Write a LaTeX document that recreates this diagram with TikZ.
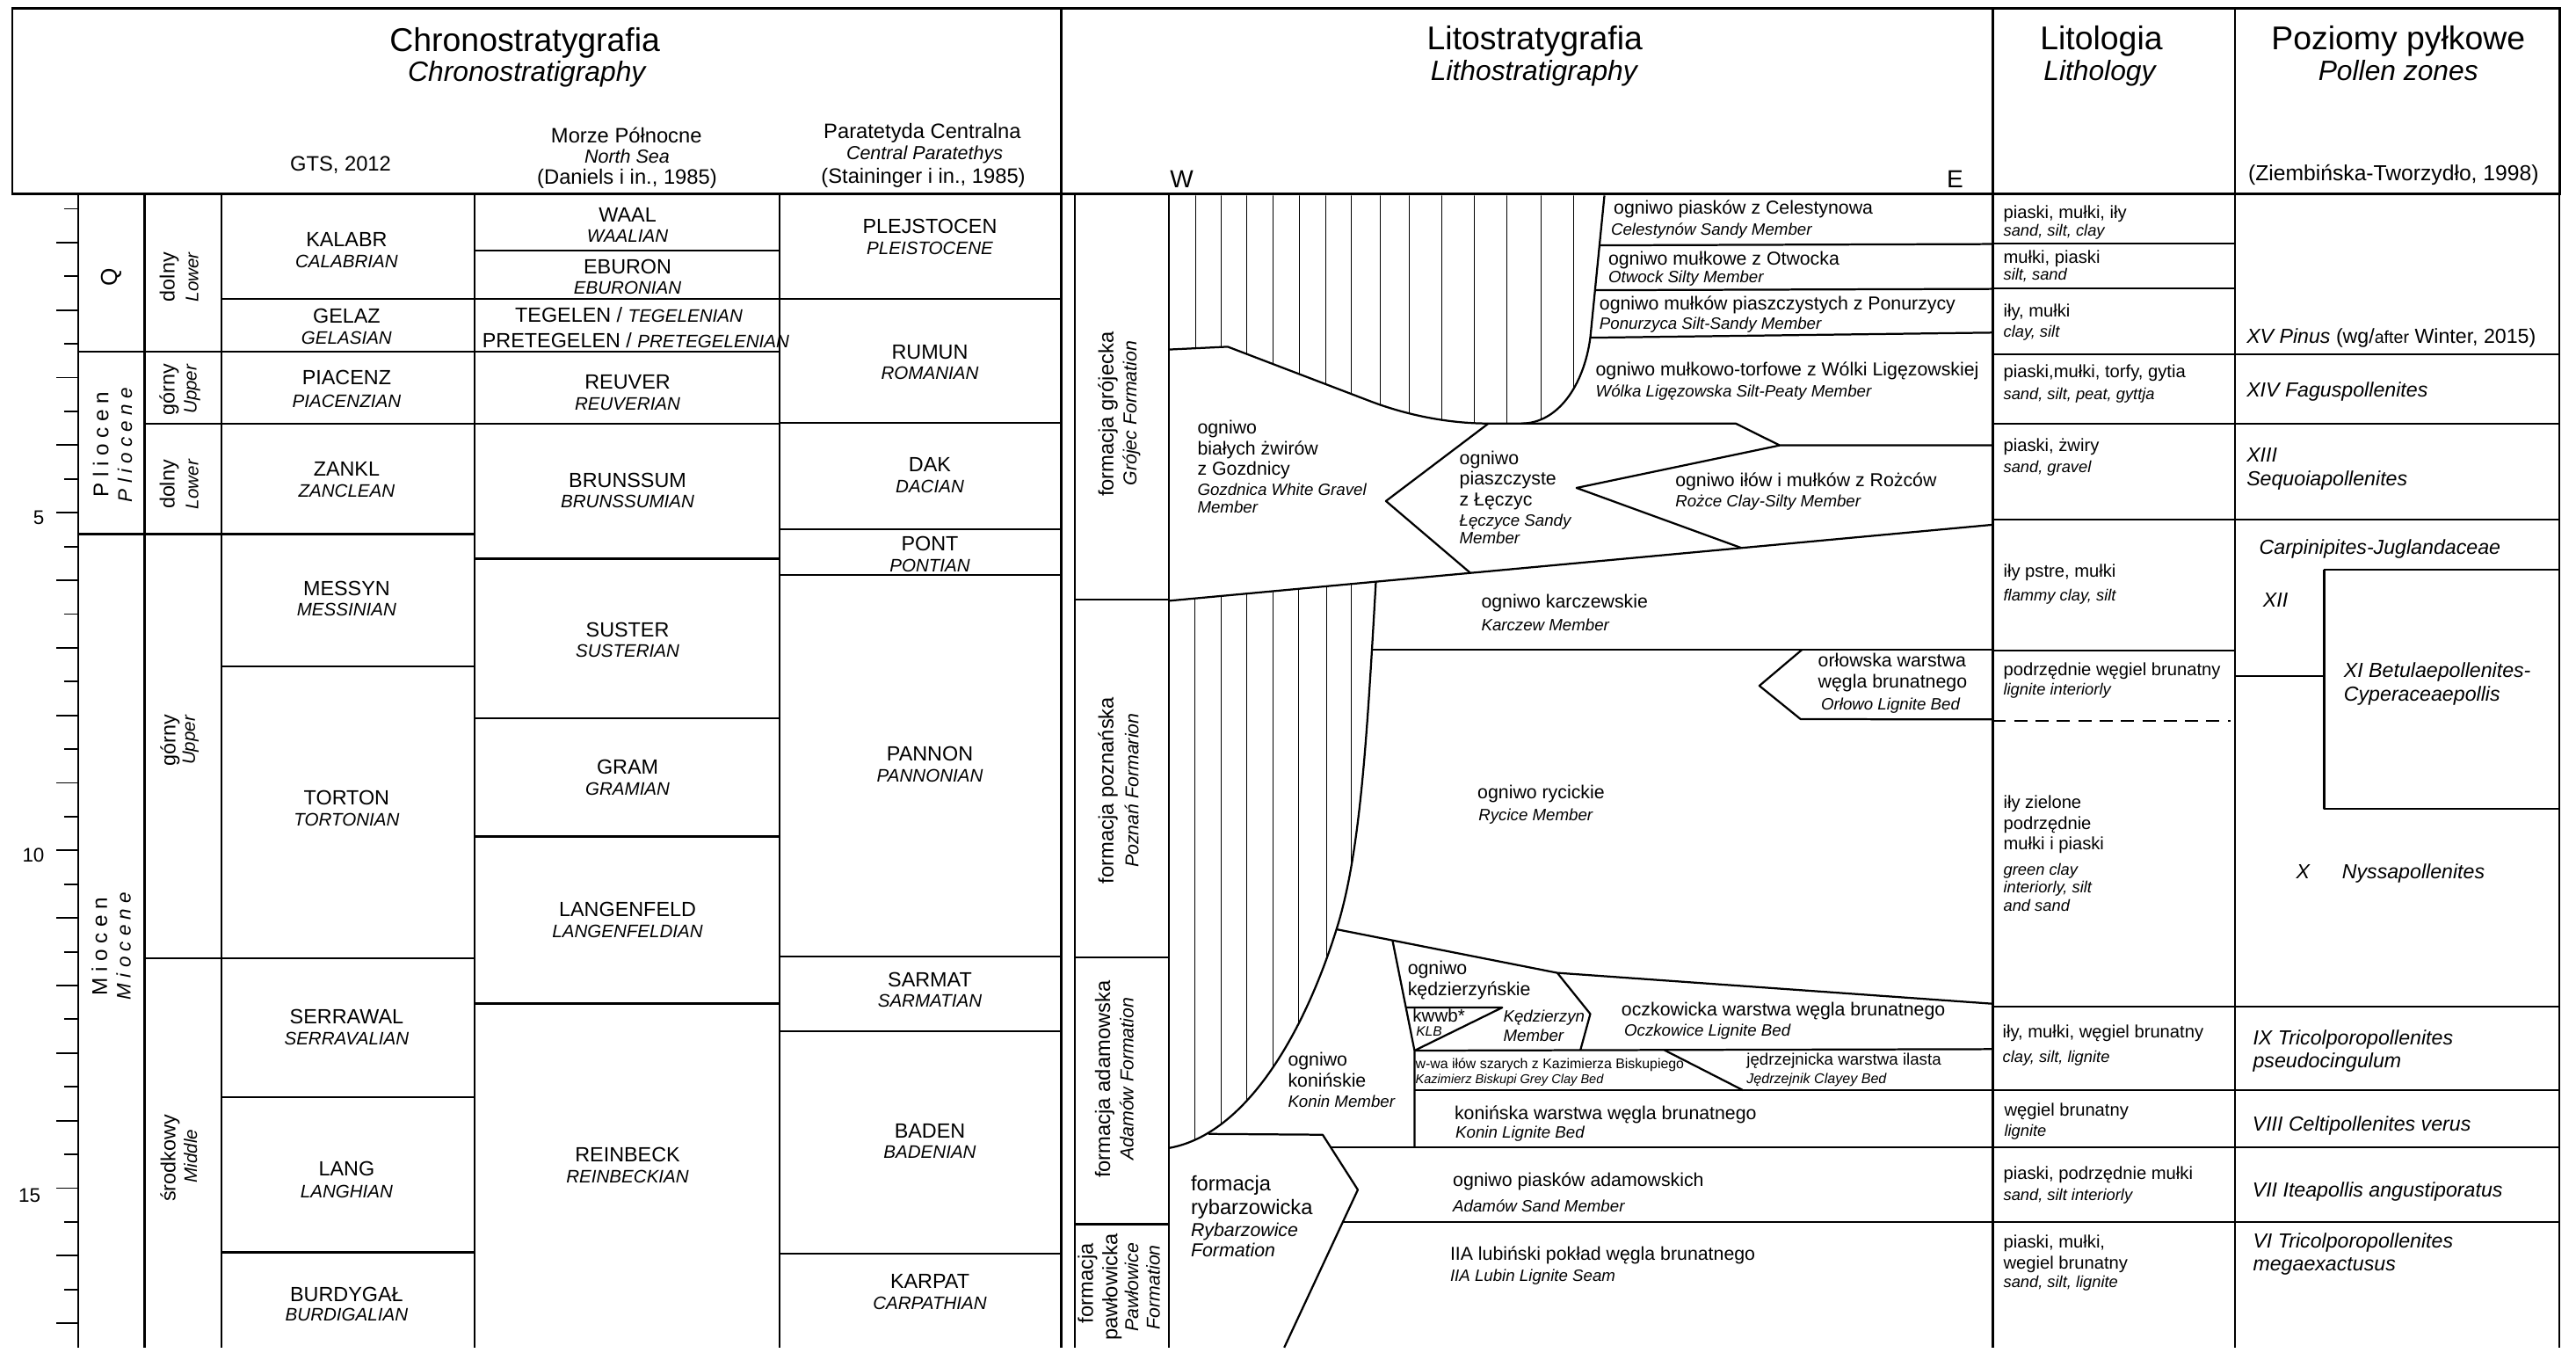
\documentclass[tikz,border=0pt]{standalone}
\usepackage{fontspec}
\setmainfont{Liberation Sans}
\newcommand\fsz[1]{\fontsize{#1}{#1}\selectfont}
\begin{document}
\begin{tikzpicture}[x=1pt,y=-1pt,
  every node/.style={inner sep=0pt,outer sep=0pt},
  ln/.style={line width=1.2pt,line join=round},
  framebox/.style={line width=1.5pt},
  hatchline/.style={line width=0.45pt},
  tick/.style={line width=1pt},
  hd/.style={anchor=base,font=\fsz{20}},
  hdi/.style={anchor=base,font=\fsz{17}\itshape},
  hs/.style={anchor=base,font=\fsz{12.7}},
  hsi/.style={anchor=base,font=\fsz{11.5}\itshape},
  cu/.style={anchor=base,font=\fsz{12.5}},
  ci/.style={anchor=base,font=\fsz{11}\itshape},
  ru/.style={rotate=90,font=\fsz{12.5}},
  ri/.style={rotate=90,font=\fsz{11}\itshape},
  fu/.style={rotate=90,font=\fsz{12.7}},
  fi/.style={rotate=90,font=\fsz{11.4}\itshape},
  lu/.style={anchor=base west,font=\fsz{11.4}},
  li/.style={anchor=base west,font=\fsz{10}\itshape},
  yu/.style={anchor=base west,font=\fsz{10.8}},
  yi/.style={anchor=base west,font=\fsz{9.8}\itshape},
  pz/.style={anchor=base west,font=\fsz{12.4}\itshape},
]
\useasboundingbox (0,0) rectangle (1568,823.3);

% ---------------- header ----------------
\draw[framebox] (7.5,5.3) rectangle (1558,118);
\draw[ln] (646,5.3)--(646,118) (1213,5.3)--(1213,118) (1360.5,5.3)--(1360.5,118);
\node[hd] (h1) at (319.5,31.2) {Chronostratygrafia};
\node[hdi] (h2) at (320.6,49.6) {Chronostratigraphy};
\node[hs] (h3) at (207.3,104.3) {GTS, 2012};
\node[hs] (h4) at (381.3,87) {Morze Północne};
\node[hsi] (h5) at (381.7,99.5) {North Sea};
\node[hs] (h6) at (381.7,112.3) {(Daniels i in., 1985)};
\node[hs] (h7) at (561.4,84.3) {Paratetyda Centralna};
\node[hsi] (h8) at (562.8,97.2) {Central Paratethys};
\node[hs] (h9) at (562,111.5) {(Staininger i in., 1985)};
\node[hd] (h10) at (934.2,30.3) {Litostratygrafia};
\node[hdi] (h11) at (933.7,49) {Lithostratigraphy};
\node[anchor=base,font=\fsz{15}] (h12) at (719.3,114.1) {W};
\node[anchor=base,font=\fsz{15}] (h13) at (1190,114.1) {E};
\node[hd] (h14) at (1279.1,30.3) {Litologia};
\node[hdi] (h15) at (1278,49) {Lithology};
\node[hd] (h16) at (1459.8,30.3) {Poziomy pyłkowe};
\node[hdi] (h17) at (1459.8,49) {Pollen zones};
\node[anchor=base,font=\fsz{13.2}] (h18) at (1456.9,109.7) {(Ziembińska-Tworzydło, 1998)};

% ---------------- body verticals ----------------
\foreach \x in {47.6,88,135,289,474.6,646,654.4,711.5,1213,1360.5,1558}
  \draw[ln] (\x,118)--(\x,820);

% time ticks
\foreach \i in {1,3,...,33}{\pgfmathsetmacro\yy{312+(\i*0.5-5)*41.1}\draw[tick] (39,\yy)--(47.6,\yy);}
\foreach \i in {1,...,17}{\pgfmathsetmacro\yy{312+(\i-5)*41.1}\draw[tick] (34.4,\yy)--(47.6,\yy);}
\node[anchor=base east,font=\fsz{12}] (t5) at (27,319.3) {5};
\node[anchor=base east,font=\fsz{12}] (t10) at (27,524.8) {10};
\node[anchor=base east,font=\fsz{12}] (t15) at (24.6,731.3) {15};

% ---------------- chrono horizontals ----------------
\draw[ln] (47.6,214)--(474.6,214);
\draw[ln] (47.6,325)--(289,325);
\draw[ln] (88,258)--(474.6,258);
\draw[ln] (474.6,257.5)--(646,257.5);
\draw[ln] (88,583)--(289,583);
\draw[ln] (135,182)--(646,182);
\draw[ln] (135,405.6)--(289,405.6);
\draw[ln] (135,667.8)--(289,667.8);
\draw[ln] (135,762)--(289,762);
\draw[ln] (289,152.5)--(474.6,152.5);
\draw[ln] (289,340)--(474.6,340);
\draw[ln] (289,437)--(474.6,437);
\draw[ln] (289,509)--(474.6,509);
\draw[ln] (289,610.7)--(474.6,610.7);
\draw[ln] (474.6,322)--(646,322);
\draw[ln] (474.6,350)--(646,350);
\draw[ln] (474.6,582)--(646,582);
\draw[ln] (474.6,627.6)--(646,627.6);
\draw[ln] (474.6,762.7)--(646,762.7);

% era / subseries labels
\node[rotate=90,font=\fsz{14}] (q) at (68,168.6) {Q};
\node[rotate=90,font=\fsz{13}] (pl1) at (61.4,270.6) {P l i o c e n};
\node[rotate=90,font=\fsz{12}\itshape] (pl2) at (76,270.8) {P l i o c e n e};
\node[rotate=90,font=\fsz{13}] (mi1) at (60.5,576) {M i o c e n};
\node[rotate=90,font=\fsz{12}\itshape] (mi2) at (75.2,575.6) {M i o c e n e};
\node[ru] (s1) at (103,168.6) {dolny};
\node[ri] (s2) at (117,168.6) {Lower};
\node[ru] (s3) at (103,236.9) {górny};
\node[ri] (s4) at (117,236.9) {Upper};
\node[ru] (s5) at (103,294.8) {dolny};
\node[ri] (s6) at (117,294.8) {Lower};
\node[ru] (s7) at (103.5,450.4) {górny};
\node[ri] (s8) at (116,450.4) {Upper};
\node[ru] (s9) at (103.5,704.8) {środkowy};
\node[ri] (s10) at (116,703.5) {Middle};

% GTS column
\node[cu] (g1) at (211,150.3) {KALABR};       \node[ci] (g1i) at (211,163) {CALABRIAN};
\node[cu] (g2) at (211,196.5) {GELAZ};        \node[ci] (g2i) at (211,209.5) {GELASIAN};
\node[cu] (g3) at (211,234.3) {PIACENZ};      \node[ci] (g3i) at (211,247.8) {PIACENZIAN};
\node[cu] (g4) at (211,289.5) {ZANKL};        \node[ci] (g4i) at (211,302.6) {ZANCLEAN};
\node[cu] (g5) at (211,362.5) {MESSYN};       \node[ci] (g5i) at (211,375) {MESSINIAN};
\node[cu] (g6) at (211,490) {TORTON};         \node[ci] (g6i) at (211,502.7) {TORTONIAN};
\node[cu] (g7) at (211,623.1) {SERRAWAL};     \node[ci] (g7i) at (211,636) {SERRAVALIAN};
\node[cu] (g8) at (211,715.5) {LANG};         \node[ci] (g8i) at (211,728.7) {LANGHIAN};
\node[cu] (g9) at (211,792) {BURDYGAŁ};       \node[ci] (g9i) at (211,804) {BURDIGALIAN};

% North Sea column
\node[cu] (n1) at (382,135) {WAAL};           \node[ci] (n1i) at (382,147.4) {WAALIAN};
\node[cu] (n2) at (382,166.5) {EBURON};       \node[ci] (n2i) at (382,179) {EBURONIAN};
\node[cu] (n3) at (382.8,196.1) {TEGELEN / \fsz{11}\itshape TEGELENIAN};
\node[cu] (n4) at (387,211.5) {PRETEGELEN / \fsz{11}\itshape PRETEGELENIAN};
\node[cu] (n5) at (382,236.5) {REUVER};       \node[ci] (n5i) at (382,249.6) {REUVERIAN};
\node[cu] (n6) at (382,296.5) {BRUNSSUM};     \node[ci] (n6i) at (382,309) {BRUNSSUMIAN};
\node[cu] (n7) at (382,387.5) {SUSTER};       \node[ci] (n7i) at (382,400) {SUSTERIAN};
\node[cu] (n8) at (382,470.9) {GRAM};         \node[ci] (n8i) at (382,483.7) {GRAMIAN};
\node[cu] (n9) at (382,557.5) {LANGENFELD};   \node[ci] (n9i) at (382,570.5) {LANGENFELDIAN};
\node[cu] (n10) at (382,707) {REINBECK};      \node[ci] (n10i) at (382,720) {REINBECKIAN};

% Paratethys column
\node[cu] (r1) at (566,142) {PLEJSTOCEN};     \node[ci] (r1i) at (566,155) {PLEISTOCENE};
\node[cu] (r2) at (566,218.5) {RUMUN};        \node[ci] (r2i) at (566,231) {ROMANIAN};
\node[cu] (r3) at (566,287.1) {DAK};          \node[ci] (r3i) at (566,299.8) {DACIAN};
\node[cu] (r4) at (566,334.9) {PONT};         \node[ci] (r4i) at (566,348) {PONTIAN};
\node[cu] (r5) at (566,463) {PANNON};         \node[ci] (r5i) at (566,476) {PANNONIAN};
\node[cu] (r6) at (566,600.5) {SARMAT};       \node[ci] (r6i) at (566,613) {SARMATIAN};
\node[cu] (r7) at (566,692.5) {BADEN};        \node[ci] (r7i) at (566,705) {BADENIAN};
\node[cu] (r8) at (566,784) {KARPAT};         \node[ci] (r8i) at (566,797) {CARPATHIAN};

% ---------------- formations column ----------------
\draw[ln] (654.4,365)--(711.5,365);
\draw[ln] (654.4,582.6)--(711.5,582.6);
\draw[ln] (654.4,745)--(711.5,745);
\node[fu] (f1) at (674.4,252.1) {formacja grójecka};
\node[fi] (f2) at (688.8,251.5) {Grójec Formation};
\node[fu] (f3) at (674.4,481) {formacja poznańska};
\node[fi] (f4) at (688.8,481) {Poznań Formarion};
\node[fu] (f5) at (672.5,656.8) {formacja adamowska};
\node[fi] (f6) at (685.8,656.5) {Adamów Formation};
\node[fu] (f7) at (662,781) {formacja};
\node[fu] (f8) at (676.8,783.3) {pawłowicka};
\node[fi] (f9) at (688.8,783.3) {Pawłowice};
\node[fi] (f10) at (701.9,783.3) {Formation};

% ---------------- lithostratigraphy body ----------------
% hatching (upper)
\begin{scope}
\clip (711.5,119) -- (711.5,212.7) -- (747.3,211) -- (835,244.5) .. controls (855,252) and (880,257.7) .. (906,257.7) -- (926,257.7) .. controls (948,257.7) and (964,235) .. (968,205.5) -- (976.6,119) -- cycle;
\foreach \x in {727.9,743.3,758.9,774.7,790.7,806.8,822.5,840.2,857.6,877.7,897.1,917.1,937.9,957.9}
  \draw[hatchline] (\x,119) -- (\x,270);
\end{scope}
% hatching (lower)
\begin{scope}
\clip (711.5,365.6) -- (837.5,353.9) .. controls (832,450) and (828,520) .. (813.5,565.5) .. controls (795,625) and (760,690) .. (711.5,698.6) -- cycle;
\foreach \x in {727.2,743.3,759,774.7,790.1,807.5,822.5}
  \draw[hatchline] (\x,340) -- (\x,700);
\end{scope}

\draw[ln] (711.5,212.7) -- (747.3,211) -- (835,244.5) .. controls (855,252) and (880,257.7) .. (906,257.7) -- (926,257.7) .. controls (948,257.7) and (964,235) .. (968,205.5) -- (976.6,119);
\draw[ln] (973.6,149.3) -- (1213,148.5);
\draw[ln] (970.9,176.6) -- (1213,175.8);
\draw[ln] (968,205.5) -- (1213,202.4);
\draw[ln] (926,257.7) -- (1056.5,257.7) -- (1083.3,271) -- (1213,271);
\draw[ln] (906,257.7) -- (843.6,304.9) -- (895,348.65);
\draw[ln] (1083.3,271) -- (959.6,296.9) -- (1059.9,333.4);
\draw[ln] (711.5,365.6) -- (1213,319.3);
\draw[ln] (837.5,353.9) .. controls (832,450) and (828,520) .. (813.5,565.5) .. controls (795,625) and (760,690) .. (711.5,698.6);
\draw[ln] (835,395.5) -- (1213,395.5);
\draw[ln] (1096.7,395.5) -- (1070.9,417.3) -- (1096,437.6) -- (1213,437.8);
\draw[ln] (813.5,565.5) -- (947.9,592) -- (1213,610.8);
\draw[ln] (847.6,572.2) -- (861,639.3) -- (861,698.3);
\draw[ln] (947.9,592) -- (968,617) -- (962,638.9);
\draw[ln] (855.8,613.1) -- (914.4,613.1) -- (861,639.3);
\draw[ln] (861,639.3) -- (1213,638.4);
\draw[ln] (1013.1,639) -- (1060.9,663.4);
\draw[ln] (861,663.4) -- (1213,663.4);
\draw[ln] (735.6,690) -- (805.1,690.5) -- (826.5,724) -- (781.7,820);
\draw[ln] (810,698.3) -- (1213,698.3);
\draw[ln] (817.3,743.5) -- (1213,743.5);

% litho texts
\node[lu] (a1) at (982.3,130.5) {ogniwo piasków z Celestynowa};
\node[li] (a2) at (980.6,143.1) {Celestynów Sandy Member};
\node[lu] (a3) at (979,161.3) {ogniwo mułkowe z Otwocka};
\node[li] (a4) at (979,172) {Otwock Silty Member};
\node[lu] (a5) at (973.6,188.8) {ogniwo mułków piaszczystych z Ponurzycy};
\node[li] (a6) at (973.6,200.5) {Ponurzyca Silt-Sandy Member};
\node[lu] (a7) at (971.3,228.6) {ogniwo mułkowo-torfowe z Wólki Ligęzowskiej};
\node[li] (a8) at (971.3,241.6) {Wólka Ligęzowska Silt-Peaty Member};
\node[lu] (b1) at (728.9,264.2) {ogniwo};
\node[lu] (b2) at (728.9,276.7) {białych żwirów};
\node[lu] (b3) at (728.9,289.2) {z Gozdnicy};
\node[li] (b4) at (728.9,301.3) {Gozdnica White Gravel};
\node[li] (b5) at (728.9,312) {Member};
\node[lu] (c1) at (888.4,282.6) {ogniwo};
\node[lu] (c2) at (888.4,295.1) {piaszczyste};
\node[lu] (c3) at (888.4,308) {z Łęczyc};
\node[li] (c4) at (888.4,320) {Łęczyce Sandy};
\node[li] (c5) at (888.4,331.1) {Member};
\node[lu] (d1) at (1019.8,296.3) {ogniwo iłów i mułków z Rożców};
\node[li] (d2) at (1019.8,308.4) {Rożce Clay-Silty Member};
\node[lu] (e1) at (901.7,369.8) {ogniwo karczewskie};
\node[li] (e2) at (901.7,383.8) {Karczew Member};
\node[lu] (o1) at (1106.7,406) {orłowska warstwa};
\node[lu] (o2) at (1106.7,418.5) {węgla brunatnego};
\node[li] (o3) at (1108.5,431.8) {Orłowo Lignite Bed};
\node[lu] (y1) at (899.4,486.2) {ogniwo rycickie};
\node[li] (y2) at (900,499.2) {Rycice Member};
\node[lu] (k1) at (856.9,593.2) {ogniwo};
\node[lu] (k2) at (856.9,606.1) {kędzierzyńskie};
\node[anchor=base west,font=\fsz{11}] (k3) at (859.9,622.1) {kwwb*};
\node[anchor=base west,font=\fsz{8.3}\itshape] (k4) at (862,630.3) {KLB};
\node[li] (k5) at (915.1,621.7) {Kędzierzyn};
\node[li] (k6) at (915.1,633.5) {Member};
\node[lu] (z1) at (987,618.2) {oczkowicka warstwa węgla brunatnego};
\node[li] (z2) at (988.7,630.3) {Oczkowice Lignite Bed};
\node[anchor=base west,font=\fsz{8.5}] (w1) at (861.6,650) {w-wa iłów szarych z Kazimierza Biskupiego};
\node[anchor=base west,font=\fsz{7.8}\itshape] (w2) at (861.6,659.2) {Kazimierz Biskupi Grey Clay Bed};
\node[anchor=base west,font=\fsz{10}] (j1) at (1063.2,648.1) {jędrzejnicka warstwa ilasta};
\node[anchor=base west,font=\fsz{8.6}\itshape] (j2) at (1063.2,659.1) {Jędrzejnik Clayey Bed};
\node[lu] (m1) at (885.4,681.2) {konińska warstwa węgla brunatnego};
\node[li] (m2) at (886,692.7) {Konin Lignite Bed};
\node[lu] (u1) at (784,648.5) {ogniwo};
\node[lu] (u2) at (784,661.4) {konińskie};
\node[li] (u3) at (784,674) {Konin Member};
\node[lu] (v1) at (884.4,722) {ogniwo piasków adamowskich};
\node[li] (v2) at (884.4,737.3) {Adamów Sand Member};
\node[lu] (x1) at (882.7,767.1) {IIA lubiński pokład węgla brunatnego};
\node[li] (x2) at (882.7,779.5) {IIA Lubin Lignite Seam};
\node[anchor=base west,font=\fsz{12.7}] (rb1) at (724.9,724.6) {formacja};
\node[anchor=base west,font=\fsz{12.7}] (rb2) at (724.9,738.9) {rybarzowicka};
\node[anchor=base west,font=\fsz{11.4}\itshape] (rb3) at (724.9,752.3) {Rybarzowice};
\node[anchor=base west,font=\fsz{11.4}\itshape] (rb4) at (724.9,764.7) {Formation};

% ---------------- lithology column ----------------
\draw[ln] (1213,148.3)--(1360.5,148.3);
\draw[ln] (1213,175.5)--(1360.5,175.5);
\draw[ln] (1213,215.7)--(1558,215.7);
\draw[ln] (1213,258)--(1558,258);
\draw[ln] (1213,316.3)--(1558,316.3);
\draw[ln] (1213,395.9)--(1360.5,395.9);
\draw[ln,dash pattern=on 8pt off 5pt] (1213,438.5)--(1358,438.5);
\draw[ln] (1213,612.5)--(1558,612.5);
\draw[ln] (1213,663.4)--(1558,663.4);
\draw[ln] (1213,698.3)--(1558,698.3);
\draw[ln] (1213,743.5)--(1558,743.5);

\node[yu] (L1) at (1219.5,132.7) {piaski, mułki, iły};
\node[yi] (L2) at (1219.5,143.5) {sand, silt, clay};
\node[yu] (L3) at (1219.5,160) {mułki, piaski};
\node[yi] (L4) at (1219.5,170.5) {silt, sand};
\node[yu] (L5) at (1219.5,192.7) {iły, mułki};
\node[yi] (L6) at (1219.5,204.9) {clay, silt};
\node[yu] (L7) at (1219.5,229.6) {piaski,mułki, torfy, gytia};
\node[yi] (L8) at (1219.5,243.4) {sand, silt, peat, gyttja};
\node[yu] (L9) at (1219.5,274.6) {piaski, żwiry};
\node[yi] (L10) at (1219.5,287.8) {sand, gravel};
\node[yu] (L11) at (1219.5,351.2) {iły pstre, mułki};
\node[yi] (L12) at (1219.5,365.6) {flammy clay, silt};
\node[yu] (L13) at (1219.5,411.2) {podrzędnie węgiel brunatny};
\node[yi] (L14) at (1219.5,423) {lignite interiorly};
\node[yu] (L15) at (1219.5,492) {iły zielone};
\node[yu] (L16) at (1219.5,504.9) {podrzędnie};
\node[yu] (L17) at (1219.5,517.1) {mułki i piaski};
\node[yi] (L18) at (1219.5,532.5) {green clay};
\node[yi] (L19) at (1219.5,543.5) {interiorly, silt};
\node[yi] (L20) at (1219.5,554.7) {and sand};
\node[yu] (L21) at (1219,631.4) {iły, mułki, węgiel brunatny};
\node[yi] (L22) at (1219,646.5) {clay, silt, lignite};
\node[yu] (L23) at (1220,679.2) {węgiel brunatny};
\node[yi] (L24) at (1220,691.7) {lignite};
\node[yu] (L25) at (1219.5,717.8) {piaski, podrzędnie mułki};
\node[yi] (L26) at (1219.5,730.6) {sand, silt interiorly};
\node[yu] (L27) at (1219.5,759.2) {piaski, mułki,};
\node[yu] (L28) at (1219.5,772) {wegiel brunatny};
\node[yi] (L29) at (1219.5,783.7) {sand, silt, lignite};

% ---------------- pollen column ----------------
\draw[ln] (1414.7,346.8)--(1558,346.8);
\draw[ln] (1360.5,411.2)--(1414.7,411.2);
\draw[ln] (1414.7,346.8)--(1414.7,492)--(1558,492);

\node[pz] (P1) at (1367.5,209) {XV Pinus {\upshape (wg/{\fsz{10.5}after} Winter, 2015)}};
\node[pz] (P2) at (1367.5,241.3) {XIV Faguspollenites};
\node[pz] (P3) at (1367.5,281.2) {XIII};
\node[pz] (P4) at (1367.5,295.6) {Sequoiapollenites};
\node[pz] (P5) at (1375.2,337.1) {Carpinipites-Juglandaceae};
\node[pz] (P6) at (1377.5,369.3) {XII};
\node[pz] (P7) at (1426.7,412.3) {XI Betulaepollenites-};
\node[pz] (P8) at (1426.7,426.6) {Cyperaceaepollis};
\node[pz] (P9) at (1397.7,534.6) {X};
\node[pz] (P10) at (1425.6,534.6) {Nyssapollenites};
\node[pz] (P11) at (1371.4,636) {IX Tricolporopollenites};
\node[pz] (P12) at (1371.4,649.6) {pseudocingulum};
\node[pz] (P13) at (1371,688.5) {VIII Celtipollenites verus};
\node[pz] (P14) at (1371,728.1) {VII Iteapollis angustiporatus};
\node[pz] (P15) at (1371.4,759.5) {VI Tricolporopollenites};
\node[pz] (P16) at (1371.4,773.3) {megaexactusus};
\end{tikzpicture}
\end{document}
